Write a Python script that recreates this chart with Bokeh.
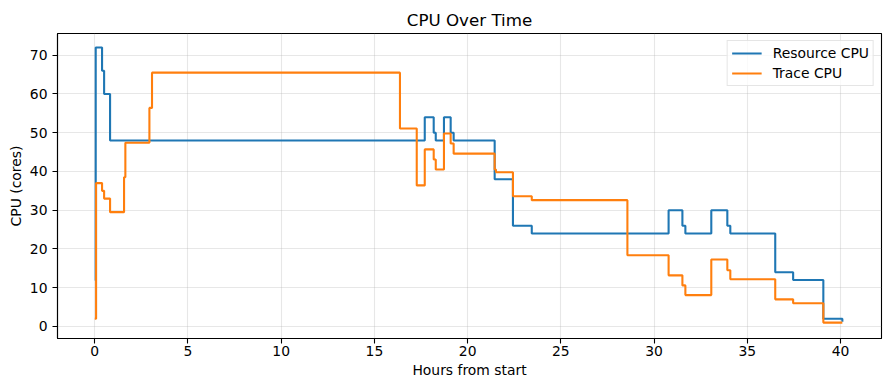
from bokeh.plotting import figure
from bokeh.models import Range1d, FixedTicker, Legend, LegendItem
from bokeh.embed import file_html
from bokeh.resources import INLINE

# ---- data ----
resource_hours = [0, 0.05, 0.39, 0.5, 0.82, 17.70, 18.18, 18.29, 18.73, 19.09, 19.25,
                  21.45, 22.43, 23.44, 30.78, 31.52, 31.68, 33.07, 33.93, 34.09,
                  36.50, 37.46, 39.08, 40.10]
resource_cpu = [12, 72, 66, 60, 48, 54, 50, 48, 54, 50, 48,
                38, 26, 24, 30, 26, 24, 30, 26, 24,
                14, 12, 2, 1.2]

trace_hours = [0, 0.07, 0.39, 0.5, 0.82, 1.57, 1.64, 2.93, 3.07, 16.37, 17.27, 17.70,
               18.18, 18.29, 18.73, 19.09, 19.25, 21.45, 21.52, 22.43, 23.44, 28.57,
               30.78, 31.52, 31.68, 33.07, 33.93, 34.09, 36.50, 37.46, 39.08, 40.10]
trace_cpu = [2, 37, 35, 33, 29.5, 38.5, 47.4, 56.4, 65.5, 51.1, 36.4, 45.7,
             43.1, 40.5, 49.8, 47.2, 44.6, 40.5, 39.8, 33.6, 32.6, 18.4,
             13.2, 10.6, 8.1, 17.3, 14.5, 12.2, 7.0, 6.0, 1.0, 1.0]

x_ticks = [0, 5, 10, 15, 20, 25, 30, 35, 40]
y_ticks = [0, 10, 20, 30, 40, 50, 60, 70]

series_labels = ["Resource CPU", "Trace CPU"]
title_text = "CPU Over Time"
x_label = "Hours from start"
y_label = "CPU (cores)"

FONT = "DejaVu Sans"

p = figure(width=885, height=386, output_backend="svg", toolbar_location=None,
           x_range=Range1d(-2.0, 42.2), y_range=Range1d(-3.1, 75.6),
           min_border_left=57, min_border_right=4, min_border_top=33, min_border_bottom=48,
           title=title_text)

p.title.text_font = FONT
p.title.text_font_size = "16.7px"
p.title.text_font_style = "normal"
p.title.align = "center"
p.title.text_color = "black"
p.title.standoff = 8

p.background_fill_color = "white"
p.border_fill_color = "white"
p.outline_line_color = "black"
p.outline_line_width = 1.1

for ax in (p.xaxis[0], p.yaxis[0]):
    ax.axis_line_color = "black"
    ax.axis_line_width = 1.1
    ax.major_tick_line_color = "black"
    ax.major_tick_line_width = 1.1
    ax.major_tick_out = 5
    ax.major_tick_in = 0
    ax.minor_tick_line_color = None
    ax.major_label_text_font = FONT
    ax.major_label_text_font_size = "13.9px"
    ax.major_label_text_color = "black"
    ax.axis_label_text_font = FONT
    ax.axis_label_text_font_size = "13.9px"
    ax.axis_label_text_font_style = "normal"
    ax.axis_label_text_color = "black"

p.xaxis[0].ticker = FixedTicker(ticks=x_ticks)
p.yaxis[0].ticker = FixedTicker(ticks=y_ticks)
p.xaxis[0].axis_label = x_label
p.yaxis[0].axis_label = y_label
p.xaxis[0].major_label_standoff = 2
p.yaxis[0].major_label_standoff = 5
p.xaxis[0].axis_label_standoff = 3
p.yaxis[0].axis_label_standoff = 3

for g in (p.xgrid[0], p.ygrid[0]):
    g.grid_line_color = "#b0b0b0"
    g.grid_line_alpha = 0.3
    g.grid_line_width = 1.1
p.xgrid[0].ticker = FixedTicker(ticks=x_ticks)
p.ygrid[0].ticker = FixedTicker(ticks=y_ticks)

r1 = p.step(resource_hours, resource_cpu, mode="after", line_color="#1f77b4", line_width=2.1)
r2 = p.step(trace_hours, trace_cpu, mode="after", line_color="#ff7f0e", line_width=2.1)

legend = Legend(items=[LegendItem(label=series_labels[0], renderers=[r1]),
                       LegendItem(label=series_labels[1], renderers=[r2])],
                location="top_right")
legend.margin = 7
legend.padding = 4
legend.spacing = 4
legend.glyph_width = 30
legend.glyph_height = 14
legend.label_height = 14
legend.label_standoff = 11
legend.label_text_font = FONT
legend.label_text_font_size = "13.9px"
legend.label_text_color = "black"
legend.border_line_color = "#cccccc"
legend.border_line_width = 1
legend.background_fill_color = "white"
legend.background_fill_alpha = 0.8
p.add_layout(legend)

open("out.html", "w").write(file_html(p, INLINE))
